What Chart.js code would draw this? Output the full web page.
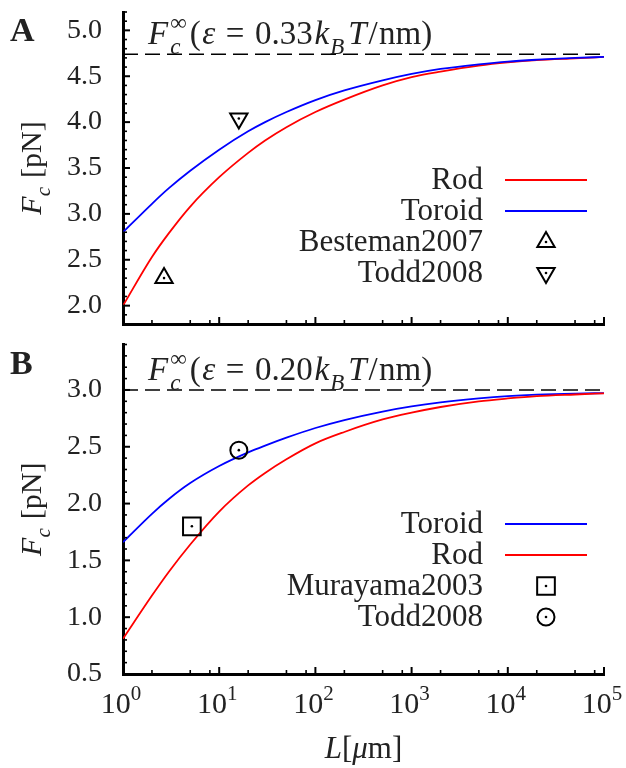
<!DOCTYPE html>
<html>
<head>
<meta charset="utf-8">
<script src="https://cdn.jsdelivr.net/npm/chart.js@4"></script>
<style>
  body { margin: 0; background: #fff; }
  .panel { position: absolute; left: 0; width: 626px; }
  #panelA { top: 0; height: 340px; }
  #panelB { top: 330px; height: 438px; }
</style>
</head>
<body>
<div class="panel" id="panelA"><canvas id="chartA"></canvas></div>
<div class="panel" id="panelB"><canvas id="chartB"></canvas></div>
<script>
// chain length L in micrometres, shared by all curves
const lengths = [1, 2, 3, 5, 10, 20, 30, 50, 100, 200, 500, 1000, 2000, 5000, 10000, 20000, 50000, 100000];

// panel A, eps = 0.33 kBT/nm
const rodA    = [2.00, 2.53, 2.79, 3.08, 3.40, 3.665, 3.80, 3.945, 4.11, 4.245, 4.40, 4.49, 4.55, 4.615, 4.65, 4.675, 4.695, 4.71];
const toroidA = [2.80, 3.11, 3.28, 3.47, 3.70, 3.90, 4.00, 4.11, 4.24, 4.345, 4.455, 4.525, 4.58, 4.63, 4.66, 4.68, 4.70, 4.71];
const besteman2007 = [{ x: 2.67, y: 2.30 }];
const todd2008A = [{ x: 16, y: 4.04 }];
const plateauA = 4.74;
const epsA = '0.33';

// panel B, eps = 0.20 kBT/nm
const toroidB = [1.66, 1.91, 2.04, 2.18, 2.33, 2.45, 2.51, 2.58, 2.665, 2.735, 2.81, 2.855, 2.89, 2.925, 2.945, 2.958, 2.968, 2.972];
const rodB    = [0.81, 1.19, 1.40, 1.64, 1.93, 2.16, 2.27, 2.39, 2.53, 2.63, 2.74, 2.80, 2.85, 2.90, 2.925, 2.945, 2.96, 2.97];
const murayama2003 = [{ x: 5.2, y: 1.80 }];
const todd2008B = [{ x: 16, y: 2.47 }];
const plateauB = 3.0;
const epsB = '0.20';

// ticks
const xTickExps = [0, 1, 2, 3, 4, 5];
const xMinorMults = [2, 5, 8];
const yTicksA = [2.0, 2.5, 3.0, 3.5, 4.0, 4.5, 5.0];
const yTicksB = [0.5, 1.0, 1.5, 2.0, 2.5, 3.0];

const FONT = '"Liberation Serif", "DejaVu Serif", serif';
const INK = '#222';

function fontOf(p, size) {
    const s = p.sm ? Math.round(size * 0.7) : size;
    return (p.it ? 'italic ' : '') + s + 'px ' + FONT;
}

// draws a row of text pieces (sub/superscripts as smaller shifted pieces)
function drawRich(ctx, pieces, x, y, size, align) {
    let w = 0;
    for (const p of pieces) {
        ctx.font = fontOf(p, size);
        if (!p.stay) w += ctx.measureText(p.t).width + (p.gap || 0) * size;
    }
    let cx = align === 'center' ? x - w / 2 : x;
    ctx.textAlign = 'left';
    ctx.textBaseline = 'alphabetic';
    ctx.fillStyle = INK;
    for (const p of pieces) {
        ctx.font = fontOf(p, size);
        ctx.fillText(p.t, cx, y + (p.dy || 0) * size);
        if (!p.stay) cx += ctx.measureText(p.t).width + (p.gap || 0) * size;
    }
}

function plateauPieces(eps) {
    return [
        { t: 'F', it: 1, gap: 0.06 },
        { t: 'c', it: 1, sm: 1, dy: 0.3, stay: 1 },
        { t: '\u221E', sm: 1, dy: -0.42, gap: 0.1 },
        { t: '(', gap: 0.04 },
        { t: '\u03B5', it: 1, gap: 0.32 },
        { t: '=', gap: 0.32 },
        { t: eps, gap: 0.06 },
        { t: 'k', it: 1, gap: 0.03 },
        { t: 'B', it: 1, sm: 1, dy: 0.3, gap: 0.12 },
        { t: 'T', it: 1, gap: 0.06 },
        { t: '/', gap: 0.04 },
        { t: 'nm)' }
    ];
}

const decorations = {
    id: 'decorations',
    afterDatasetsDraw(chart, args, opts) {
        const ctx = chart.ctx;
        // dot in the middle of every data marker
        chart.data.datasets.forEach((ds, i) => {
            if (!ds.centerDot) return;
            chart.getDatasetMeta(i).data.forEach(pt => {
                ctx.beginPath();
                ctx.arc(pt.x, pt.y, 1.3, 0, Math.PI * 2);
                ctx.fillStyle = '#000';
                ctx.fill();
            });
        });
    },
    afterDraw(chart, args, opts) {
        const ctx = chart.ctx;
        const area = chart.chartArea;
        const x = chart.scales.x, y = chart.scales.y;
        ctx.save();
        ctx.strokeStyle = '#000';

        // inward ticks on y
        const k0 = Math.round(y.min * 10), k1 = Math.round(y.max * 10);
        for (let k = k0; k <= k1; k++) {
            const py = y.getPixelForValue(k / 10);
            const major = k % 5 === 0;
            ctx.lineWidth = major ? 2 : 1.6;
            ctx.beginPath();
            ctx.moveTo(area.left, py);
            ctx.lineTo(area.left + (major ? 7 : 4), py);
            ctx.stroke();
        }
        // inward ticks on x
        xTickExps.forEach(e => {
            const px = x.getPixelForValue(Math.pow(10, e));
            ctx.lineWidth = 2;
            ctx.beginPath();
            ctx.moveTo(px, area.bottom);
            ctx.lineTo(px, area.bottom - 7);
            ctx.stroke();
            if (e === xTickExps[xTickExps.length - 1]) return;
            xMinorMults.forEach(m => {
                const qx = x.getPixelForValue(m * Math.pow(10, e));
                ctx.lineWidth = 1.6;
                ctx.beginPath();
                ctx.moveTo(qx, area.bottom);
                ctx.lineTo(qx, area.bottom - 4);
                ctx.stroke();
            });
        });

        // plateau annotation
        const py = y.getPixelForValue(opts.plateau);
        drawRich(ctx, plateauPieces(opts.eps), area.left + 25, py - 10, 33);

        // panel letter
        ctx.font = 'bold 34px ' + FONT;
        ctx.fillStyle = INK;
        ctx.textAlign = 'left';
        ctx.textBaseline = 'alphabetic';
        ctx.fillText(opts.letter, 10, area.top + 29);

        // y title, rotated
        ctx.save();
        ctx.translate(41, (area.top + area.bottom) / 2);
        ctx.rotate(-Math.PI / 2);
        drawRich(ctx, [{ t: 'F', it: 1 }, { t: 'c', it: 1, sm: 1, dy: 0.3, gap: 0.3 }, { t: '[pN]' }], 0, 0, 30, 'center');
        ctx.restore();

        // x labels only on the lower panel
        if (opts.xLabels) {
            xTickExps.forEach(e => {
                const px = x.getPixelForValue(Math.pow(10, e));
                drawRich(ctx, [{ t: '10' }, { t: String(e), sm: 1, dy: -0.45 }], px - 2, area.bottom + 39, 30, 'center');
            });
            drawRich(ctx, [{ t: 'L', it: 1 }, { t: '[' }, { t: '\u03BC', it: 1 }, { t: 'm]' }],
                (area.left + area.right) / 2, area.bottom + 84, 31, 'center');
        }

        // legend: text right aligned, sample on the right
        let row = 0;
        chart.data.datasets.forEach(ds => {
            if (ds.noLegend) return;
            const ry = opts.legendY + row * 31;
            row++;
            ctx.font = '31px ' + FONT;
            ctx.fillStyle = INK;
            ctx.textAlign = 'right';
            ctx.textBaseline = 'middle';
            ctx.fillText(ds.label, 483, ry + 1);
            if (ds.showLine !== false) {
                ctx.strokeStyle = ds.borderColor;
                ctx.lineWidth = ds.borderWidth;
                ctx.beginPath();
                ctx.moveTo(505, ry);
                ctx.lineTo(587, ry);
                ctx.stroke();
            } else {
                ctx.strokeStyle = '#000';
                ctx.fillStyle = 'rgba(0,0,0,0)';
                ctx.lineWidth = ds.pointBorderWidth;
                Chart.helpers.drawPoint(ctx, {
                    pointStyle: ds.pointStyle,
                    rotation: ds.pointRotation || 0,
                    radius: ds.pointRadius,
                    borderWidth: ds.pointBorderWidth
                }, 546, ry);
                ctx.beginPath();
                ctx.arc(546, ry, 1.3, 0, Math.PI * 2);
                ctx.fillStyle = '#000';
                ctx.fill();
            }
        });
        ctx.restore();
    }
};

function curve(label, values, color, order) {
    return {
        label: label,
        data: lengths.map((L, i) => ({ x: L, y: values[i] })),
        borderColor: color,
        borderWidth: 1.8,
        pointRadius: 0,
        cubicInterpolationMode: 'monotone',
        fill: false,
        order: order
    };
}

function marker(label, points, style, rotation, radius) {
    return {
        label: label,
        data: points,
        showLine: false,
        pointStyle: style,
        pointRotation: rotation,
        pointRadius: radius,
        pointBorderWidth: 2,
        pointBackgroundColor: 'rgba(0,0,0,0)',
        pointBorderColor: '#000',
        borderColor: '#000',
        centerDot: true,
        order: -1
    };
}

function plateauLine(value) {
    return {
        label: 'plateau',
        data: [{ x: 1, y: value }, { x: 100000, y: value }],
        borderColor: '#000',
        borderWidth: 1.5,
        borderDash: [15, 7],
        pointRadius: 0,
        noLegend: true,
        order: 5
    };
}

function makePanel(id, datasets, yMin, yMax, yTicks, opts) {
    const ctx = document.getElementById(id).getContext('2d');
    return new Chart(ctx, {
        type: 'line',
        data: { datasets: datasets },
        plugins: [decorations],
        options: {
            responsive: true,
            maintainAspectRatio: false,
            animation: false,
            layout: { padding: { left: 0, right: 22, top: opts.top, bottom: 0 } },
            plugins: {
                legend: { display: false },
                tooltip: { enabled: false },
                decorations: opts
            },
            scales: {
                x: {
                    type: 'logarithmic',
                    min: 1,
                    max: 100000,
                    grid: { drawOnChartArea: false, drawTicks: false },
                    border: { display: true, color: '#000', width: 3 },
                    ticks: { display: false },
                    afterFit: s => {
                        s.height = opts.xHeight;
                        s.paddingLeft = 0; s.paddingRight = 0;
                    }
                },
                y: {
                    min: yMin,
                    max: yMax,
                    grid: { drawOnChartArea: false, drawTicks: false },
                    border: { display: true, color: '#000', width: 3 },
                    afterBuildTicks: s => { s.ticks = yTicks.map(v => ({ value: v })); },
                    ticks: {
                        padding: 21,
                        color: INK,
                        font: { family: FONT, size: 28 },
                        callback: v => Number(v).toFixed(1)
                    },
                    afterFit: s => {
                        s.width = 123;
                        s.paddingTop = 0; s.paddingBottom = 0;
                    }
                }
            }
        }
    });
}

makePanel('chartA', [
    curve('Rod', rodA, '#ff0000', 1),
    curve('Toroid', toroidA, '#0000ff', 0),
    marker('Besteman2007', besteman2007, 'triangle', 0, 10),
    marker('Todd2008', todd2008A, 'triangle', 180, 10),
    plateauLine(plateauA)
], 1.8, 5.2, yTicksA, { top: 6, xHeight: 16, plateau: plateauA, eps: epsA, letter: 'A', legendY: 180, xLabels: false });

makePanel('chartB', [
    curve('Toroid', toroidB, '#0000ff', 1),
    curve('Rod', rodB, '#ff0000', 0),
    marker('Murayama2003', murayama2003, 'rect', 0, 12.5),
    marker('Todd2008', todd2008B, 'circle', 0, 8.5),
    plateauLine(plateauB)
], 0.5, 3.4, yTicksB, { top: 13, xHeight: 94, plateau: plateauB, eps: epsB, letter: 'B', legendY: 194, xLabels: true });
</script>
</body>
</html>
